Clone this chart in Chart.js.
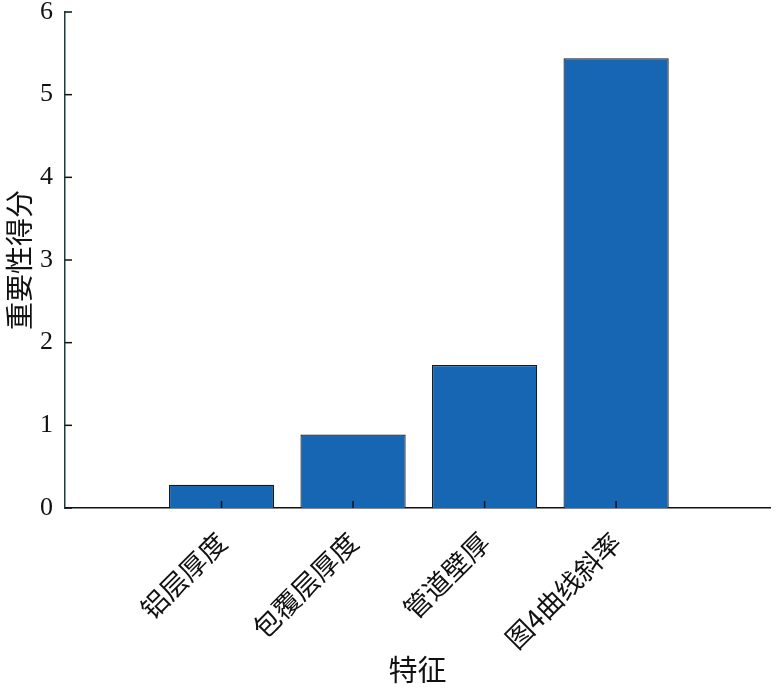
<!DOCTYPE html>
<html>
<head>
<meta charset="utf-8">
<script src="https://cdn.jsdelivr.net/npm/chart.js@4/dist/chart.umd.min.js"></script>
<style>
  body { margin: 0; background: #fff; }
  #wrap { width: 780px; height: 693px; }
</style>
</head>
<body>
<div id="wrap"><canvas id="chart" width="780" height="693"></canvas></div>
<script>
// data
const features = ['铝层厚度', '包覆层厚度', '管道壁厚', '图4曲线斜率'];
const positions = [1, 2, 3, 4];
const scores = [0.28, 0.89, 1.73, 5.44];
const yTicks = [0, 1, 2, 3, 4, 5, 6];

const cjk = '"Noto Sans CJK SC", "Noto Sans", sans-serif';
const serif = '"Liberation Serif", "DejaVu Serif", serif';

// small inward tick marks like the original figure
const innerTicks = {
  id: 'innerTicks',
  afterDraw(chart) {
    const { ctx, chartArea, scales } = chart;
    ctx.save();
    ctx.strokeStyle = '#111';
    ctx.lineWidth = 1.5;
    yTicks.forEach(v => {
      const y = scales.y.getPixelForValue(v);
      ctx.beginPath();
      ctx.moveTo(chartArea.left, y);
      ctx.lineTo(chartArea.left + 7, y);
      ctx.stroke();
    });
    positions.forEach(p => {
      const x = scales.x.getPixelForValue(p);
      ctx.beginPath();
      ctx.moveTo(x, chartArea.bottom);
      ctx.lineTo(x, chartArea.bottom - 7);
      ctx.stroke();
    });
    ctx.restore();
  }
};

const canvas = document.getElementById('chart');
new Chart(canvas.getContext('2d'), {
  type: 'bar',
  data: {
    datasets: [{
      data: positions.map((p, i) => ({ x: p, y: scores[i] })),
      backgroundColor: '#1766b4',
      borderColor: '#1a1a1a',
      borderWidth: 1.2,
      barPercentage: 0.8,
      categoryPercentage: 1.0
    }]
  },
  options: {
    responsive: false,
    animation: false,
    layout: { padding: { top: 12, right: 10, left: 0, bottom: 0 } },
    plugins: { legend: { display: false }, tooltip: { enabled: false } },
    scales: {
      x: {
        type: 'linear',
        min: -0.19,
        max: 5.17,
        offset: false,
        grid: { display: false, drawTicks: false },
        border: { display: true, color: '#111', width: 1.5 },
        afterBuildTicks: axis => { axis.ticks = positions.map(v => ({ value: v })); },
        afterFit: axis => { axis.height = 185; axis.paddingLeft = 0; axis.paddingRight = 0; },
        ticks: {
          autoSkip: false,
          minRotation: 45,
          maxRotation: 45,
          padding: 18,
          color: '#111',
          font: { family: cjk, size: 27 },
          callback: v => features[positions.indexOf(v)] || ''
        },
        title: {
          display: true,
          text: '特征',
          color: '#111',
          font: { family: cjk, size: 29 },
          padding: { top: 0, bottom: 6 }
        }
      },
      y: {
        min: 0,
        max: 6,
        grid: { display: false, drawTicks: false },
        border: { display: true, color: '#1f3a3d', width: 1.5 },
        afterBuildTicks: axis => { axis.ticks = yTicks.map(v => ({ value: v })); },
        afterFit: axis => { axis.width = 65; axis.paddingTop = 0; axis.paddingBottom = 0; },
        ticks: {
          padding: 12,
          color: '#111',
          font: { family: serif, size: 26 }
        },
        title: {
          display: true,
          text: '重要性得分',
          color: '#111',
          font: { family: cjk, size: 28 },
          padding: { top: 3, bottom: 4 }
        }
      }
    }
  },
  plugins: [innerTicks]
});
</script>
</body>
</html>
